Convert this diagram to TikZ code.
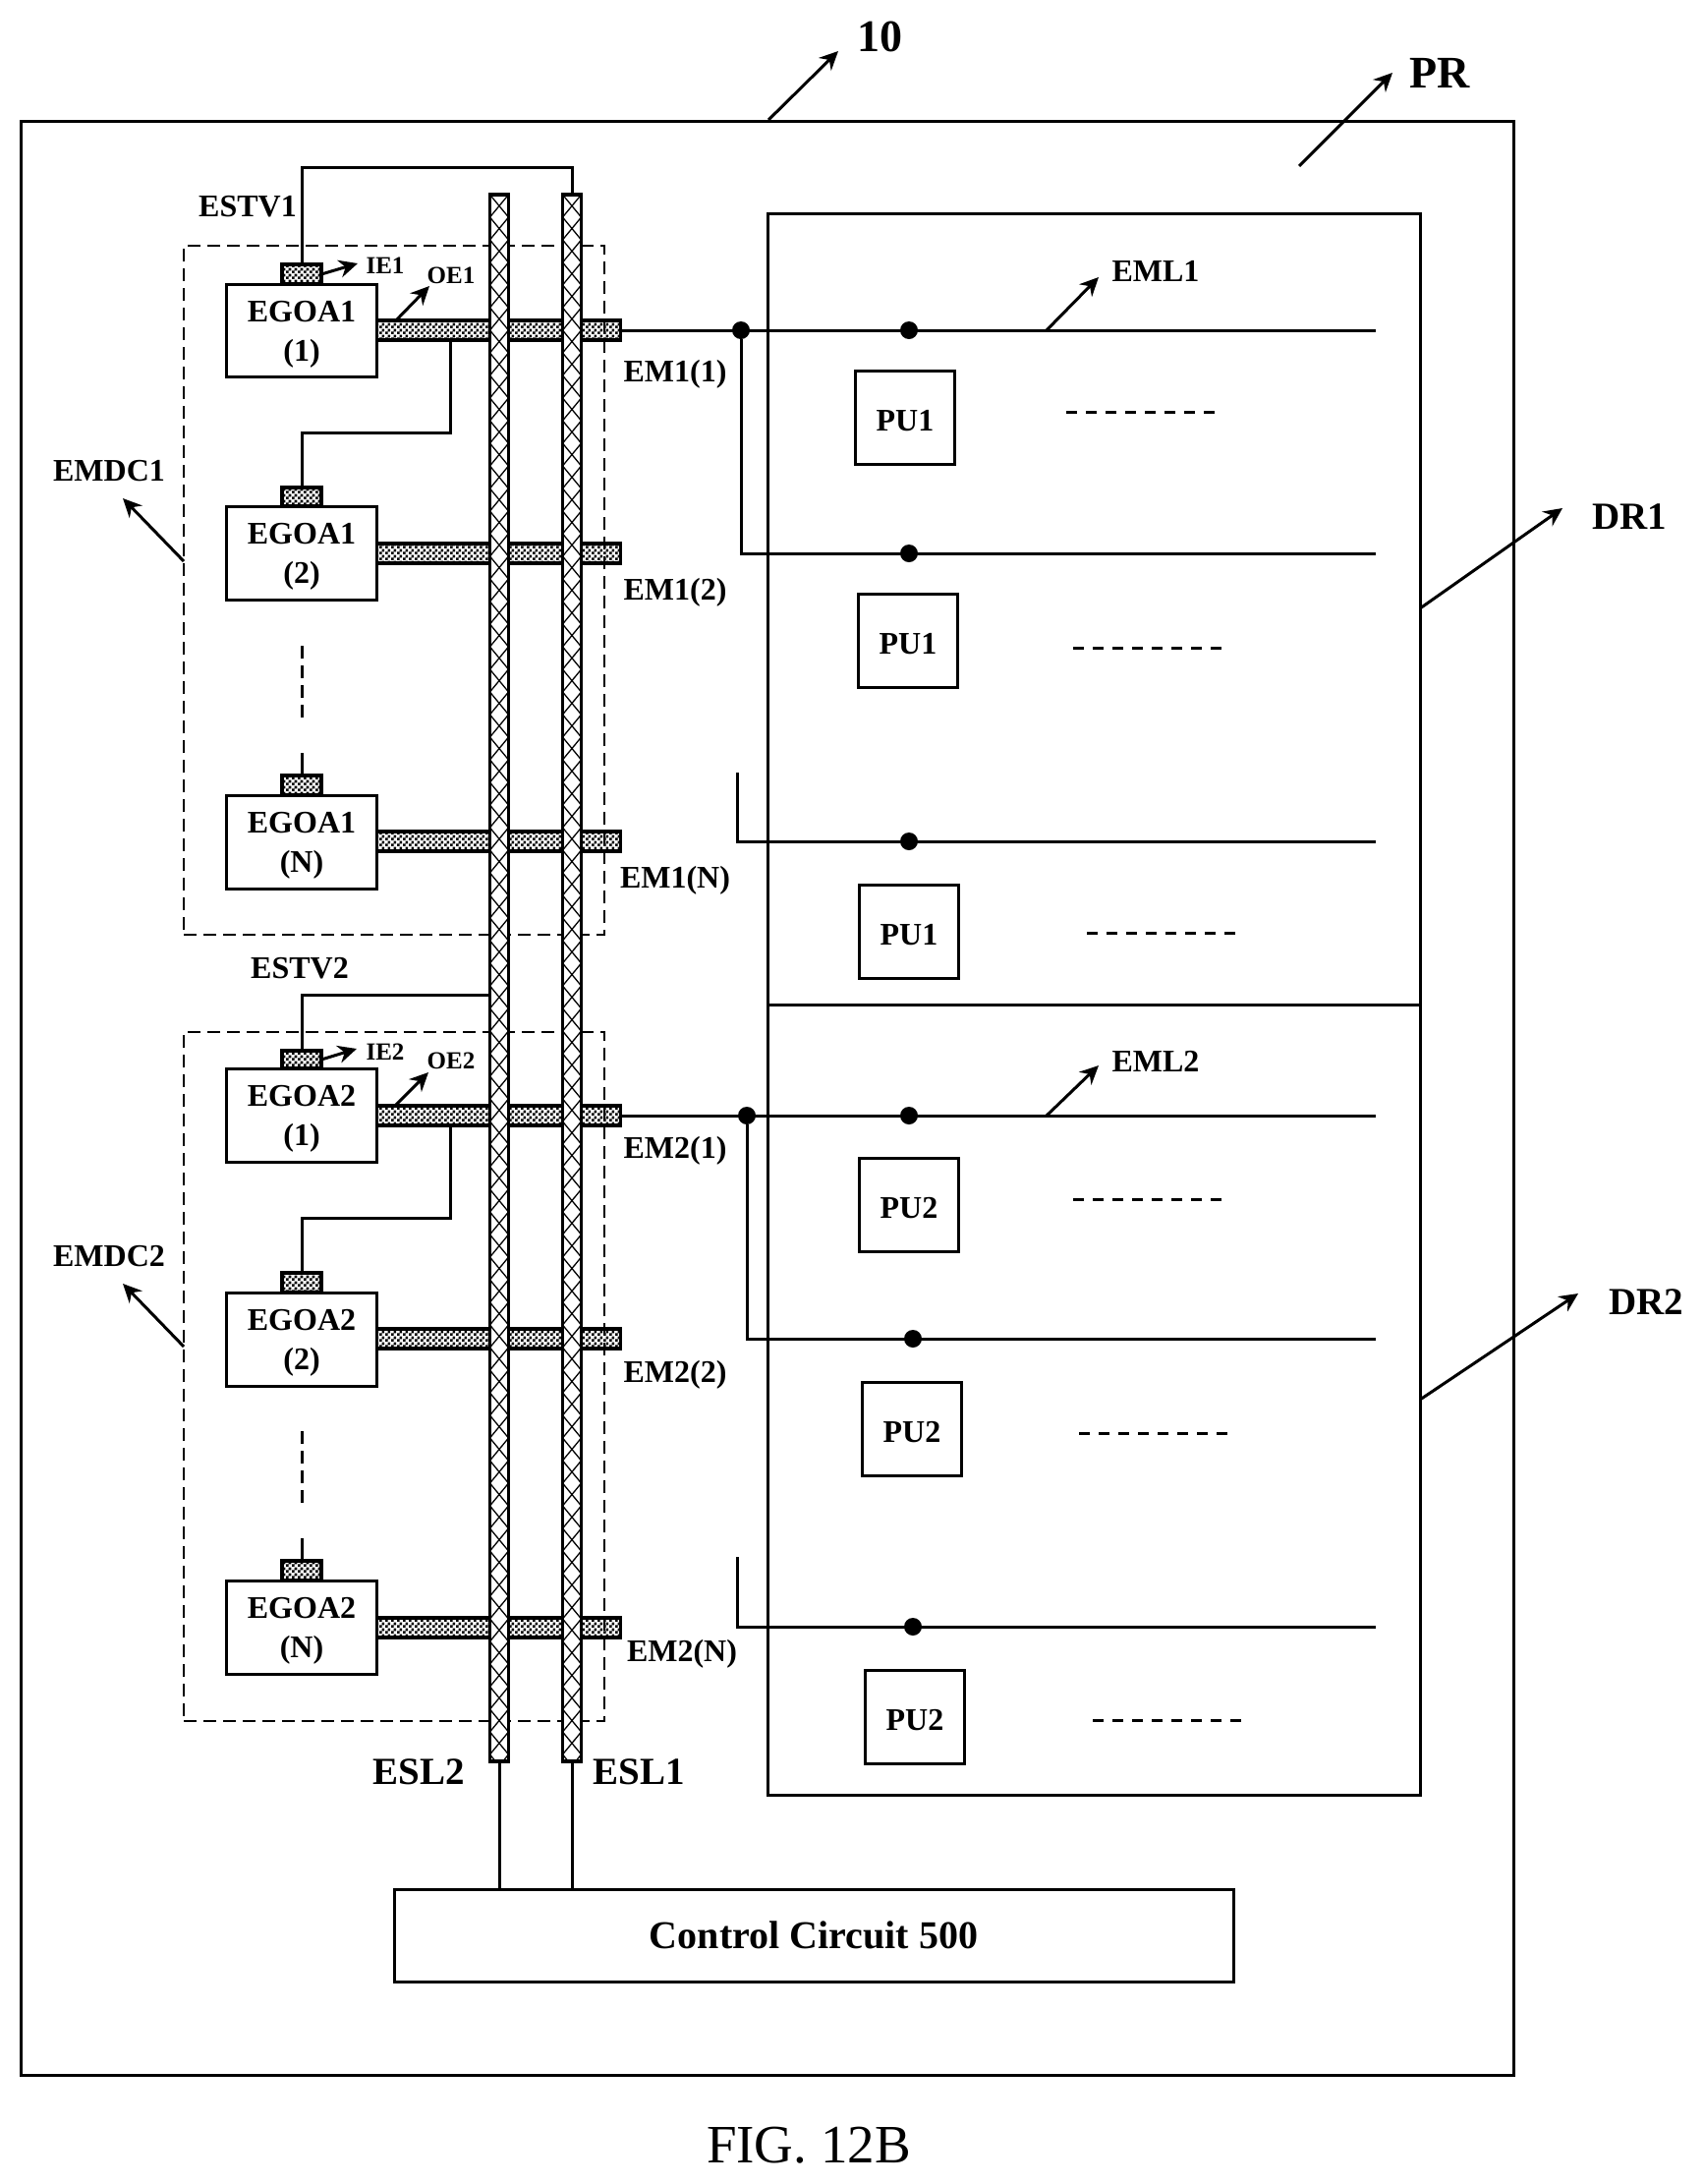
\documentclass[tikz,border=0pt]{standalone}
\usepackage{fontspec}
\setmainfont{Liberation Serif}
\usetikzlibrary{patterns,arrows.meta,calc}
\pgfdeclarepatternformonly{checker}{\pgfqpoint{0pt}{0pt}}{\pgfqpoint{2.8pt}{2.8pt}}{\pgfqpoint{2.8pt}{2.8pt}}{%
  \pgfpathrectangle{\pgfqpoint{0pt}{0pt}}{\pgfqpoint{1.4pt}{1.4pt}}%
  \pgfpathrectangle{\pgfqpoint{1.4pt}{1.4pt}}{\pgfqpoint{1.4pt}{1.4pt}}%
  \pgfusepath{fill}}
\tikzset{
  wire/.style={line width=1.5pt,black},
  plain/.style={draw,line width=1.5pt,inner sep=0pt,outer sep=0pt,fill=white},
  frame/.style={draw,line width=1.5pt,inner sep=0pt,outer sep=0pt},
  dashedbox/.style={draw,line width=1.4pt,dash pattern=on 6.5pt off 3.5pt,inner sep=0pt,outer sep=0pt},
  checkbox/.style={draw,line width=1.7pt,pattern=checker,inner sep=0pt,outer sep=0pt},
  crossbar/.style={draw,line width=1.7pt,fill=white,inner sep=0pt,outer sep=0pt,
    path picture={\foreach \k in {0,...,70}{
      \draw[line width=0.65pt] ($(path picture bounding box.north west)+(0,\k*23)$) -- ++(19,23);
      \draw[line width=0.65pt] ($(path picture bounding box.north east)+(0,\k*23)$) -- ++(-19,23);}}},
  dot/.style={circle,fill=black,inner sep=0pt,minimum size=9pt,outer sep=0pt},
  arr/.style={line width=1.5pt,-{Stealth[length=9.5pt,width=9pt]}},
  lab/.style={font=\bfseries\fontsize{16}{20}\selectfont,inner sep=0pt,align=center},
  small/.style={font=\bfseries\fontsize{12.5}{12.5}\selectfont,inner sep=0pt},
  vdash/.style={line width=1.5pt,dash pattern=on 6.5pt off 3.5pt},
  hdash/.style={line width=1.5pt,dash pattern=on 5.5pt off 4.5pt},
}
\newcommand{\unit}[7]{%
 % #1 id, #2 box top, #3 box bottom, #4 bar y, #5 text line1, #6 text line2, #7 stub top
 \node[plain,minimum width=76.5pt,minimum height={(#3-#2)*0.5pt}] (#1) at (307,{(#2+#3)/2}) {};
 \node[lab] (#1t) at (307,{(#2+#3)/2+4}) {#5\\#6};
 \node[checkbox,minimum width=20pt,minimum height={(#2-#7)*0.5pt}] (#1ie) at (307,{(#7+#2)/2}) {};
 \node[checkbox,minimum width=124pt,minimum height=10pt] (#1bar) at (507.5,#4) {};
}
\begin{document}
\begin{tikzpicture}[x=0.5pt,y=-0.5pt]
\useasboundingbox (0,0) rectangle (1734,2222);
% frames
\node[frame,minimum width=759.5pt,minimum height=994pt] (outer) at (780.5,1117) {};
\node[frame,minimum width=332pt,minimum height=402.5pt] (dr1) at (1113,619.5) {};
\node[frame,minimum width=332pt,minimum height=402pt] (dr2) at (1113,1424) {};
\node[dashedbox,minimum width=214pt,minimum height=350.5pt] (emdc1) at (401,600.5) {};
\node[dashedbox,minimum width=214pt,minimum height=350.5pt] (emdc2) at (401,1400.5) {};
% units
\unit{a1}{289}{383}{336}{EGOA1}{(1)}{269}
\unit{a2}{515}{610}{563}{EGOA1}{(2)}{496}
\unit{a3}{809}{904}{856}{EGOA1}{(N)}{789}
\unit{b1}{1087}{1182}{1135}{EGOA2}{(1)}{1069}
\unit{b2}{1315}{1410}{1362}{EGOA2}{(2)}{1295}
\unit{b3}{1608}{1703}{1656}{EGOA2}{(N)}{1588}
% coordinates
\coordinate (top1) at (582,170);
\coordinate (est2) at (499,1012);
\coordinate (k1a) at (458,346);
\coordinate (k1b) at (458,440);
\coordinate (k2a) at (458,1145);
\coordinate (k2b) at (458,1239);
% wires
\draw[wire] (a1ie.north) |- (top1) -- (582,198);
\draw[wire] (b1ie.north) |- (est2);
\draw[wire] (k1a) -- (k1b) -| (a2ie.north);
\draw[wire] (k2a) -- (k2b) -| (b2ie.north);
\coordinate (d1a) at (307,657);
\coordinate (d1b) at (307,731);
\coordinate (d1c) at (307,766);
\coordinate (d2a) at (307,1456);
\coordinate (d2b) at (307,1530);
\coordinate (d2c) at (307,1565);
\draw[vdash] (d1a) -- (d1b);
\draw[wire] (d1c) -- (a3ie.north);
\draw[vdash] (d2a) -- (d2b);
\draw[wire] (d2c) -- (b3ie.north);
% control + vertical scan lines
\node[plain,minimum width=427pt,minimum height=47pt,font=\bfseries\fontsize{20}{20}\selectfont] (ctrl) at (828,1969) {Control Circuit 500};
\node[crossbar,minimum width=9.5pt,minimum height=797pt] (esl2) at (508,995) {};
\node[crossbar,minimum width=9.5pt,minimum height=797pt] (esl1) at (582,995) {};
\draw[wire] (esl2.south) -- (esl2.south |- ctrl.north);
\draw[wire] (esl1.south) -- (esl1.south |- ctrl.north);
% rows
\foreach \n/\y/\dx/\pux/\puy/\txt/\dl/\dr/\dy in
 {r1/336/925/921/425/PU1/1085/1238/419,
  r2/563/925/924/652/PU1/1092/1244/659,
  r3/856/925/925/948/PU1/1106/1258/949,
  s1/1135/925/925/1226/PU2/1092/1244/1220,
  s2/1362/929/928/1454/PU2/1098/1250/1458,
  s3/1655/929/931/1747/PU2/1112/1264/1750}{
  \coordinate (\n e) at (1400,\y);
  \node[dot] (\n d) at (\dx,\y) {};
  \node[plain,minimum width=50.5pt,minimum height=47.5pt] (\n p) at (\pux,\puy) {};
  \node[lab] (\n t) at (\pux,\puy+3) {\txt};
  \draw[wire] (\n d) -- (\n p.north |- \n d);
  \coordinate (\n l) at (\dl,\dy);
  \coordinate (\n m) at (\dr,\dy);
  \draw[hdash] (\n l) -- (\n m);
}
\node[dot] (j1) at (754,336) {};
\node[dot] (j2) at (760,1135) {};
\draw[wire] (a1bar.east) -- (r1e);
\draw[wire] (j1) |- (r2e);
\coordinate (t1) at (750,786);
\draw[wire] (t1) |- (r3e);
\draw[wire] (b1bar.east) -- (s1e);
\draw[wire] (j2) |- (s2e);
\coordinate (t2) at (750,1584);
\draw[wire] (t2) |- (s3e);
% labels
\node[lab,font=\bfseries\fontsize{23}{23}\selectfont] (l10) at (895,37) {10};
\node[lab,font=\bfseries\fontsize{23}{23}\selectfont] (lpr) at (1465,74) {PR};
\node[lab,font=\bfseries\fontsize{19.5}{19.5}\selectfont] (ldr1) at (1658,526) {DR1};
\node[lab,font=\bfseries\fontsize{19.5}{19.5}\selectfont] (ldr2) at (1675,1325) {DR2};
\node[lab] (lestv1) at (252,210) {ESTV1};
\node[lab] (lestv2) at (305,985) {ESTV2};
\node[lab] (lemdc1) at (111,479) {EMDC1};
\node[lab] (lemdc2) at (111,1278) {EMDC2};
\node[lab] (leml1) at (1176,276) {EML1};
\node[lab] (leml2) at (1176,1080) {EML2};
\node[small] (lie1) at (392,270) {IE1};
\node[small] (loe1) at (459,280) {OE1};
\node[small] (lie2) at (392,1070) {IE2};
\node[small] (loe2) at (459,1079) {OE2};
\node[lab] (em11) at (687,381) {EM1(1)};
\node[lab] (em12) at (687,603) {EM1(2)};
\node[lab] (em1n) at (687,896) {EM1(N)};
\node[lab] (em21) at (687,1171) {EM2(1)};
\node[lab] (em22) at (687,1399) {EM2(2)};
\node[lab] (em2n) at (694,1683) {EM2(N)};
\node[lab,font=\bfseries\fontsize{19.5}{19.5}\selectfont] (lesl2) at (426,1803) {ESL2};
\node[lab,font=\bfseries\fontsize{19.5}{19.5}\selectfont] (lesl1) at (650,1803) {ESL1};
\node[inner sep=0pt,font=\fontsize{27.5}{27.5}\selectfont] (fig) at (823,2183) {FIG. 12B};
% arrows
\coordinate (a10s) at (782,122); \coordinate (a10e) at (853,52);
\coordinate (aprs) at (1322,169); \coordinate (apre) at (1417,74);
\coordinate (ad1s) at (1445,619); \coordinate (ad1e) at (1590,517);
\coordinate (ad2s) at (1445,1424); \coordinate (ad2e) at (1606,1316);
\coordinate (ae1s) at (187,571); \coordinate (ae1e) at (125,507);
\coordinate (ae2s) at (187,1370); \coordinate (ae2e) at (125,1306);
\coordinate (am1s) at (1065,336); \coordinate (am1e) at (1118,282);
\coordinate (am2s) at (1065,1135); \coordinate (am2e) at (1118,1084);
\coordinate (ai1e) at (364,268); \coordinate (ao1s) at (402,327); \coordinate (ao1e) at (437,291);
\coordinate (ai2e) at (363,1067); \coordinate (ao2s) at (402,1125); \coordinate (ao2e) at (436,1091);
\foreach \s/\e in {a10s/a10e,aprs/apre,ad1s/ad1e,ad2s/ad2e,ae1s/ae1e,ae2s/ae2e,am1s/am1e,am2s/am2e,ao1s/ao1e,ao2s/ao2e}
  \draw[arr] (\s) -- (\e);
\draw[arr] (a1ie.east) -- (ai1e);
\draw[arr] (b1ie.east) -- (ai2e);
\end{tikzpicture}
\end{document}
